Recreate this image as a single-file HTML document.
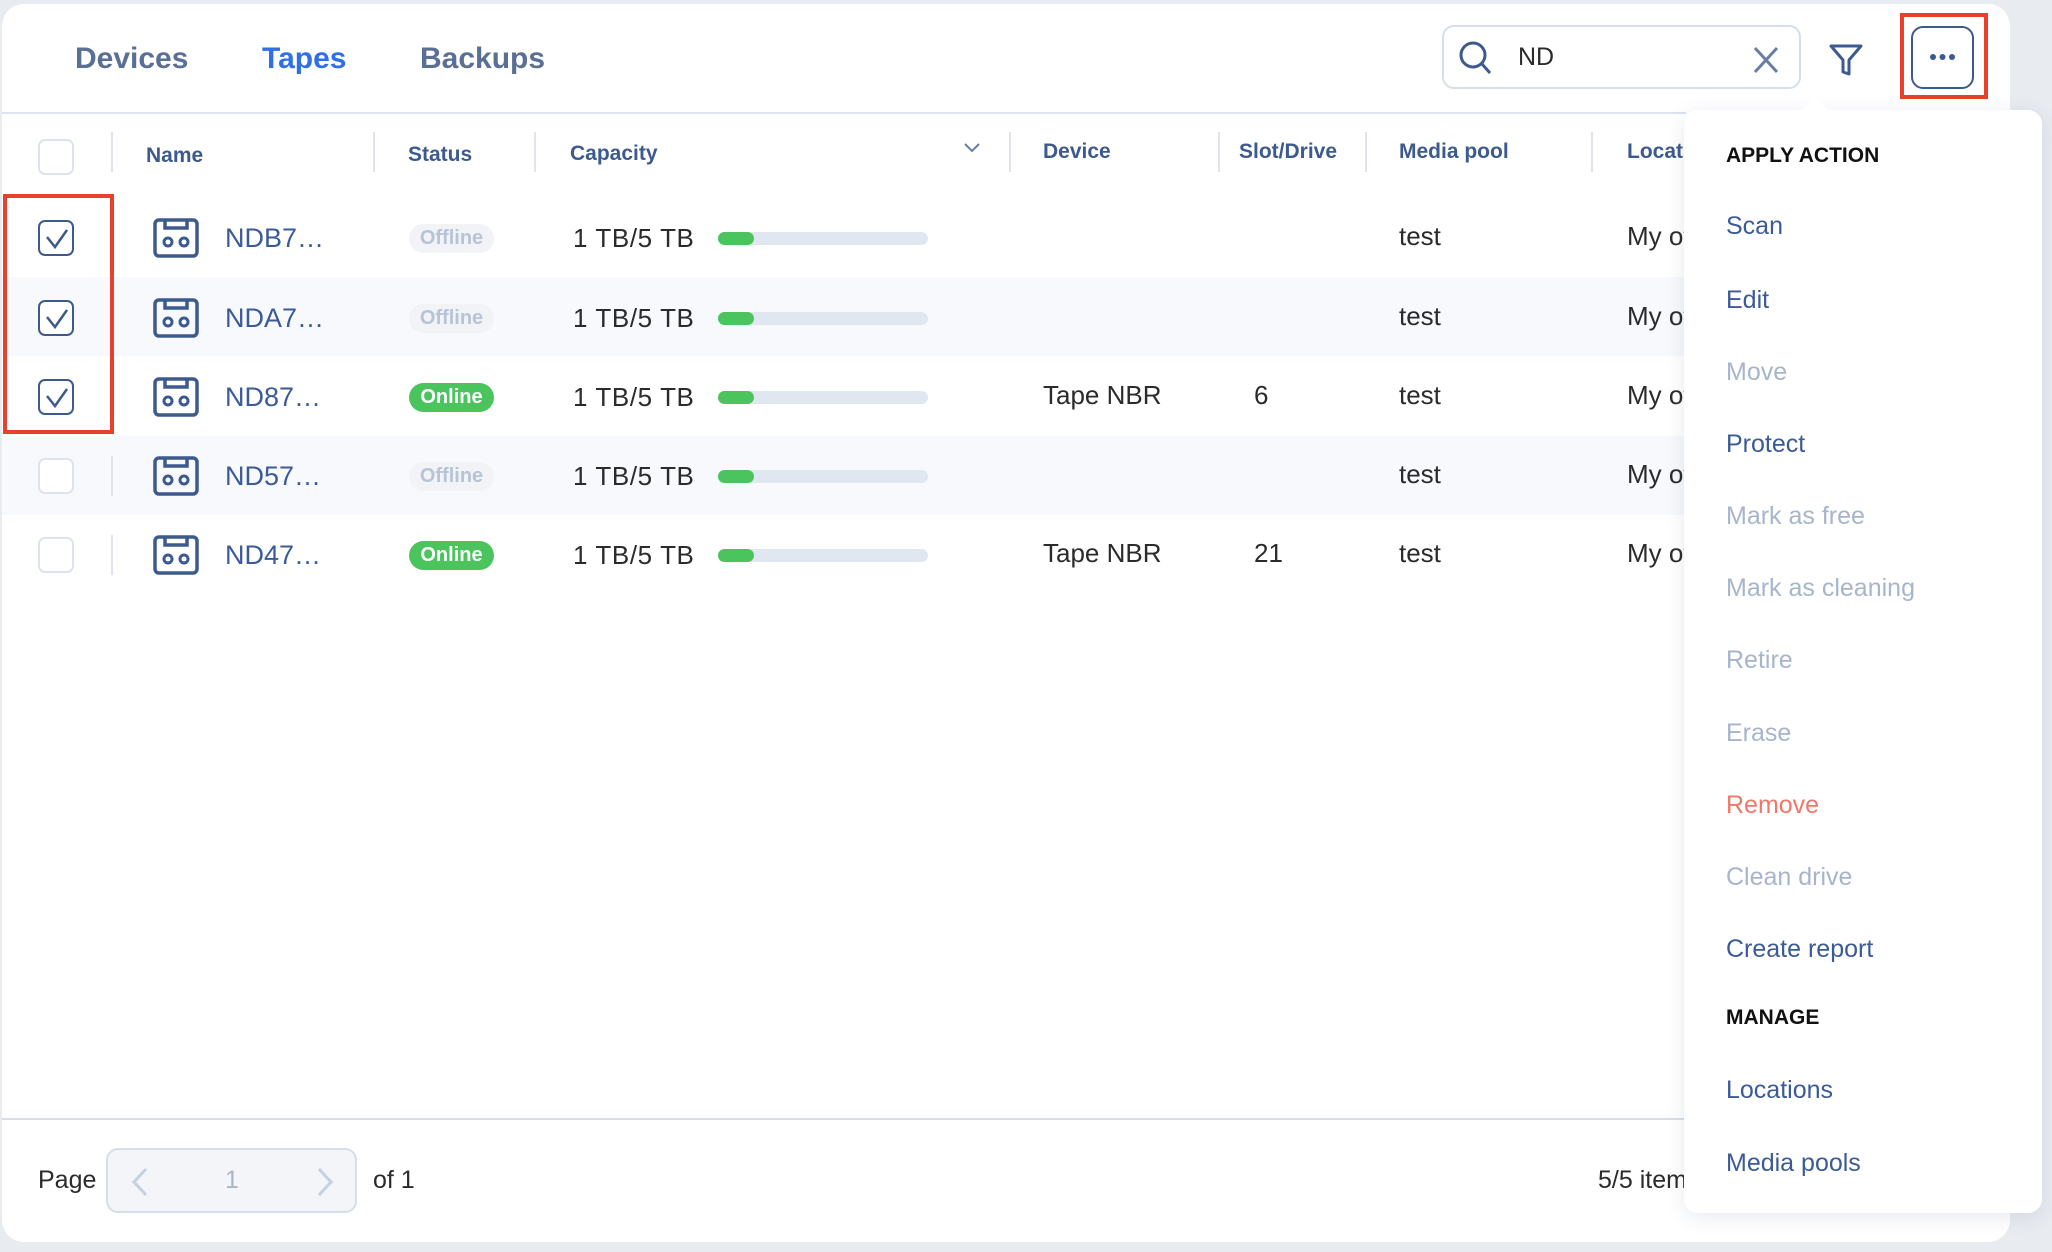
<!DOCTYPE html>
<html><head><meta charset="utf-8"><style>
*{margin:0;padding:0;box-sizing:border-box}
body{width:2052px;height:1252px;background:#e8ebf0;font-family:"Liberation Sans",sans-serif;position:relative;overflow:hidden}
.a{position:absolute;white-space:nowrap}
.t{height:40px;line-height:40px}
.card{position:absolute;left:2px;top:4px;width:2008px;height:1238px;background:#fff;border-radius:22px}
.tab{font-size:30px;font-weight:bold;color:#5a6f96}
.hd{font-size:21px;font-weight:bold;color:#3d5a8e}
.sep{position:absolute;width:2px;height:40px;background:#dfe4ec}
.cb{position:absolute;left:38px;width:36px;height:36px;border:2px solid #dde3ec;border-radius:7px;background:#fff}
.cb.on{border-color:#3d5a8e}
.nm{font-size:27px;color:#3b5a99}
.bd{font-size:26px;color:#2b2b2b}
.pill{position:absolute;left:409px;width:85px;height:29px;border-radius:15px;font-size:20px;font-weight:bold;text-align:center;line-height:29px}
.off{background:#f1f3f7;color:#b8c3d6}
.on2{background:#4cc45e;color:#fff}
.bar{position:absolute;left:718px;width:210px;height:13px;border-radius:7px;background:#e1e7f0}
.bar i{position:absolute;left:0;top:0;width:36px;height:13px;border-radius:7px;background:#4cc45e}
.mi{font-size:25px;color:#3b5a99;left:1726px}
.dis{color:#a7b5cc}
</style></head><body>
<div class="card"></div>
<div class="a t tab" style="left:75px;top:39px">Devices</div>
<div class="a t tab" style="left:262px;top:39px;color:#2f6fe8">Tapes</div>
<div class="a t tab" style="left:420px;top:39px">Backups</div>
<div class="a" style="left:1442px;top:25px;width:359px;height:64px;border:2px solid #d6deea;border-radius:12px"></div>
<svg class="a" style="left:1457px;top:38px" width="36" height="40"><circle cx="16" cy="17" r="12" fill="none" stroke="#3d5a8e" stroke-width="3"/><line x1="25" y1="26" x2="33" y2="35" stroke="#3d5a8e" stroke-width="3"/></svg>
<div class="a t bd" style="left:1518px;top:37px;font-size:25px">ND</div>
<svg class="a" style="left:1753px;top:46px" width="26" height="28"><path d="M2 2L24 26M24 2L2 26" stroke="#6a7ea3" stroke-width="3"/></svg>
<svg class="a" style="left:1828px;top:42px" width="36" height="36"><path d="M3 4H33L21 18V32L15 30V18Z" fill="none" stroke="#3d5a8e" stroke-width="3" stroke-linejoin="round"/></svg>
<div class="a" style="left:1911px;top:26px;width:63px;height:63px;border:2px solid #3d5a8e;border-radius:12px"></div>
<svg class="a" style="left:1911px;top:26px" width="63" height="63"><circle cx="22" cy="31" r="3" fill="#3d5a8e"/><circle cx="31.5" cy="31" r="3" fill="#3d5a8e"/><circle cx="41" cy="31" r="3" fill="#3d5a8e"/></svg>
<div class="a" style="left:1900px;top:13px;width:88px;height:86px;border:4px solid #e8402a"></div>
<div class="a" style="left:2px;top:112px;width:1684px;height:2px;background:#dde3ec"></div>
<div class="cb" style="top:139px"></div>
<div class="sep" style="left:111px;top:132px"></div>
<div class="sep" style="left:373px;top:132px"></div>
<div class="sep" style="left:534px;top:132px"></div>
<div class="sep" style="left:1009px;top:132px"></div>
<div class="sep" style="left:1218px;top:132px"></div>
<div class="sep" style="left:1365px;top:132px"></div>
<div class="sep" style="left:1591px;top:132px"></div>
<div class="a t hd" style="left:146px;top:136px">Name</div>
<div class="a t hd" style="left:408px;top:135px">Status</div>
<div class="a t hd" style="left:570px;top:134px">Capacity</div>
<svg class="a" style="left:963px;top:142px" width="18" height="12"><path d="M2 2L9 9L16 2" fill="none" stroke="#6a7ea3" stroke-width="2"/></svg>
<div class="a t hd" style="left:1043px;top:132px">Device</div>
<div class="a t hd" style="left:1239px;top:132px">Slot/Drive</div>
<div class="a t hd" style="left:1399px;top:132px">Media pool</div>
<div class="a t hd" style="left:1627px;top:132px">Locat</div>
<div class="a" style="left:2px;top:277px;width:1684px;height:79px;background:#f7f9fc"></div>
<div class="a" style="left:2px;top:436px;width:1684px;height:79px;background:#f7f9fc"></div>
<div id="rows"></div>
<script>
var rows=[[238,1,'NDB7…',0,'',''],[318,1,'NDA7…',0,'',''],[397,1,'ND87…',1,'Tape NBR','6'],[476,0,'ND57…',0,'',''],[555,0,'ND47…',1,'Tape NBR','21']];
var h='';
rows.forEach(function(r){var y=r[0];
h+='<div class="cb'+(r[1]?' on':'')+'" style="top:'+(y-18)+'px"></div>';
if(r[1])h+='<svg class="a" style="left:44px;top:'+(y-10)+'px" width="26" height="22"><path d="M3 9L11 19L23 2" fill="none" stroke="#3d5a8e" stroke-width="2.5"/></svg>';
else h+='<div class="sep" style="left:111px;top:'+(y-20)+'px"></div>';
h+='<svg class="a" style="left:153px;top:'+(y-22)+'px" width="46" height="44"><rect x="2" y="4" width="42" height="36" rx="4" fill="none" stroke="#3d5a8e" stroke-width="3.5"/><path d="M12 4V12H34V4" fill="none" stroke="#3d5a8e" stroke-width="3.5"/><circle cx="15" cy="26" r="4" fill="none" stroke="#3d5a8e" stroke-width="3"/><circle cx="31" cy="26" r="4" fill="none" stroke="#3d5a8e" stroke-width="3"/></svg>';
h+='<div class="a t nm" style="left:225px;top:'+(y-20)+'px">'+r[2]+'</div>';
h+='<div class="pill '+(r[3]?'on2':'off')+'" style="top:'+(y-14)+'px">'+(r[3]?'Online':'Offline')+'</div>';
h+='<div class="a t bd" style="left:573px;top:'+(y-20)+'px;letter-spacing:0.6px">1 TB/5 TB</div>';
h+='<div class="bar" style="top:'+(y-6)+'px"><i></i></div>';
h+='<div class="a t bd" style="left:1043px;top:'+(y-22)+'px">'+r[4]+'</div>';
h+='<div class="a t bd" style="left:1254px;top:'+(y-22)+'px">'+r[5]+'</div>';
h+='<div class="a t bd" style="left:1399px;top:'+(y-22)+'px">test</div>';
h+='<div class="a t bd" style="left:1627px;top:'+(y-22)+'px;width:57px;overflow:hidden">My office</div>';
});
document.getElementById('rows').innerHTML=h;
</script>
<div class="a" style="left:3px;top:194px;width:111px;height:240px;border:4px solid #e8402a"></div>
<div class="a" style="left:2px;top:1118px;width:1684px;height:2px;background:#d6deea"></div>
<div class="a t bd" style="left:38px;top:1160px;font-size:25px">Page</div>
<div class="a" style="left:106px;top:1148px;width:251px;height:65px;border:2px solid #d6deea;border-radius:12px;background:#f3f5f9"></div>
<svg class="a" style="left:131px;top:1167px" width="18" height="30"><path d="M15 2L3 15L15 28" fill="none" stroke="#c5d0e0" stroke-width="3"/></svg>
<div class="a t" style="left:225px;top:1160px;font-size:25px;color:#a7b5cc">1</div>
<svg class="a" style="left:316px;top:1167px" width="18" height="30"><path d="M3 2L15 15L3 28" fill="none" stroke="#c5d0e0" stroke-width="3"/></svg>
<div class="a t bd" style="left:373px;top:1160px;font-size:25px">of 1</div>
<div class="a t bd" style="left:1598px;top:1160px;font-size:25px">5/5 items</div>
<div class="a" style="left:1684px;top:110px;width:358px;height:1103px;background:#fff;border-radius:14px;box-shadow:0 4px 20px rgba(60,80,120,0.12)"></div>
<div class="a" style="left:1806px;top:101px;width:18px;height:18px;background:#fff;transform:rotate(45deg)"></div>
<div class="a t" style="left:1726px;top:136px;font-size:21px;font-weight:bold;color:#111">APPLY ACTION</div>
<div class="a t mi" style="top:206px">Scan</div>
<div class="a t mi" style="top:280px">Edit</div>
<div class="a t mi dis" style="top:352px">Move</div>
<div class="a t mi" style="top:424px">Protect</div>
<div class="a t mi dis" style="top:496px">Mark as free</div>
<div class="a t mi dis" style="top:568px">Mark as cleaning</div>
<div class="a t mi dis" style="top:640px">Retire</div>
<div class="a t mi dis" style="top:713px">Erase</div>
<div class="a t mi" style="top:785px;color:#f0776a">Remove</div>
<div class="a t mi dis" style="top:857px">Clean drive</div>
<div class="a t mi" style="top:929px">Create report</div>
<div class="a t" style="left:1726px;top:998px;font-size:21px;font-weight:bold;color:#111">MANAGE</div>
<div class="a t mi" style="top:1070px">Locations</div>
<div class="a t mi" style="top:1143px">Media pools</div>
</body></html>
